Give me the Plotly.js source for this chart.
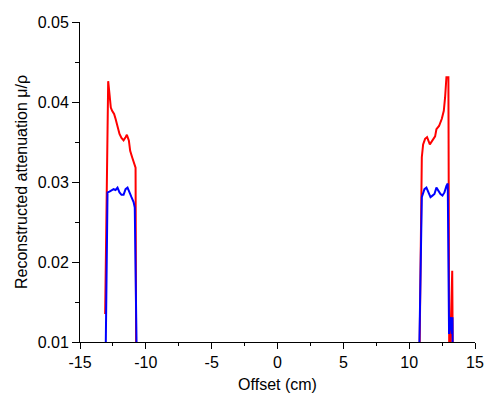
<!DOCTYPE html>
<html>
<head>
<meta charset="utf-8">
<script src="https://cdn.plot.ly/plotly-3.0.1.min.js"></script>
<style>
  html, body { margin: 0; padding: 0; background: #fff; }
  #chart { width: 486px; height: 394px; }
</style>
</head>
<body>
<div id="chart"></div>
<script>
// Reconstructed attenuation profiles across the offset (cm)
const offsetRed = [-13.09, -12.86, -12.76, -12.66, -12.56, -12.41, -12.30, -12.15, -12.00, -11.85,
                   -11.69, -11.54, -11.44, -11.29, -11.19, -11.04, -10.89, -10.78, -10.72,
                   10.73, 10.96, 11.06, 11.21, 11.36, 11.57, 11.77, 11.97, 12.07, 12.27,
                   12.48, 12.63, 12.73, 12.83, 12.98, 13.05, 13.27, 13.33];
const muRed = [0.0135, 0.0426, 0.0410, 0.0393, 0.0389, 0.0385, 0.0379, 0.0368, 0.0360, 0.0355,
               0.0352, 0.0356, 0.0359, 0.0352, 0.0339, 0.0331, 0.0323, 0.0318, 0.0000,
               0.0000, 0.0331, 0.0347, 0.0354, 0.0356, 0.0347, 0.0352, 0.0357, 0.0366, 0.0370,
               0.0379, 0.0389, 0.0406, 0.0431, 0.0431, 0.0040, 0.0189, 0.0040];

const offsetBlue = [-13.11, -12.91, -12.76, -12.60, -12.45, -12.30, -12.15, -12.00, -11.85, -11.69,
                    -11.54, -11.39, -11.24, -11.09, -10.93, -10.84, -10.63,
                    10.68, 10.96, 11.16, 11.31, 11.47, 11.62, 11.77, 11.92, 12.07, 12.22,
                    12.38, 12.53, 12.68, 12.83, 12.93, 13.03, 13.14, 13.24, 13.29, 13.33];
const muBlue = [0.0000, 0.0287, 0.0288, 0.0290, 0.0291, 0.0290, 0.0293, 0.0287, 0.0284, 0.0284,
                0.0291, 0.0293, 0.0288, 0.0281, 0.0275, 0.0268, 0.0000,
                0.0000, 0.0281, 0.0291, 0.0293, 0.0287, 0.0281, 0.0283, 0.0285, 0.0293, 0.0289,
                0.0285, 0.0283, 0.0287, 0.0295, 0.0298, 0.0110, 0.0131, 0.0110, 0.0131, 0.0000];

// Offset ticks, labelled with a plain hyphen for negatives
const xTickVals = [-15, -10, -5, 0, 5, 10, 15];
const xTickText = ['-15', '-10', '-5', '0', '5', '10', '15'];

const xRange = [-15, 15];
const yRange = [0.01, 0.05];
const fontFamily = '"Liberation Sans", Arial, Helvetica, sans-serif';

const traces = [
  { x: offsetRed, y: muRed, type: 'scatter', mode: 'lines',
    line: { color: '#ff0000', width: 2 }, hoverinfo: 'skip' },
  { x: offsetBlue, y: muBlue, type: 'scatter', mode: 'lines',
    line: { color: '#0000ff', width: 2 }, hoverinfo: 'skip' }
];

const layout = {
  width: 486, height: 394,
  margin: { l: 80, r: 11, t: 22, b: 52 },
  paper_bgcolor: '#fff', plot_bgcolor: '#fff',
  showlegend: false,
  font: { family: fontFamily, size: 16, color: '#000' },
  xaxis: {
    range: xRange, tickmode: 'array', tickvals: xTickVals, ticktext: xTickText,
    showgrid: false, zeroline: false,
    showline: true, linecolor: '#000', linewidth: 1,
    ticks: 'outside', ticklen: 6, tickwidth: 1, tickcolor: '#000',
    minor: { dtick: 2.5, tick0: 0, ticks: 'outside', ticklen: 3, tickcolor: '#000', showgrid: false },
    tickfont: { size: 16 },
    title: { text: 'Offset (cm)', font: { size: 16 }, standoff: 8 },
    automargin: false
  },
  xaxis2: {
    range: xRange, overlaying: 'x', side: 'top', anchor: 'y',
    dtick: 2.5, tick0: 0, showticklabels: false,
    showgrid: false, zeroline: false,
    showline: true, linecolor: '#000', linewidth: 1,
    ticks: 'inside', ticklen: 4, tickcolor: '#000'
  },
  yaxis: {
    range: yRange, dtick: 0.01, tick0: 0, tickformat: '.2f',
    showgrid: false, zeroline: false,
    showline: true, linecolor: '#000', linewidth: 1,
    ticks: 'outside', ticklen: 7, tickwidth: 1, tickcolor: '#000',
    minor: { dtick: 0.005, ticks: 'outside', ticklen: 4, tickcolor: '#000', showgrid: false },
    tickfont: { size: 16 },
    title: { text: 'Reconstructed attenuation μ/ρ', font: { size: 16 }, standoff: 6 },
    automargin: false
  },
  yaxis2: {
    range: yRange, overlaying: 'y', side: 'right', anchor: 'x',
    dtick: 0.005, tick0: 0, showticklabels: false,
    showgrid: false, zeroline: false,
    showline: true, linecolor: '#000', linewidth: 1,
    ticks: 'inside', ticklen: 4, tickcolor: '#000'
  }
};

Plotly.newPlot('chart', traces, layout, { staticPlot: true, displayModeBar: false });
</script>
</body>
</html>
